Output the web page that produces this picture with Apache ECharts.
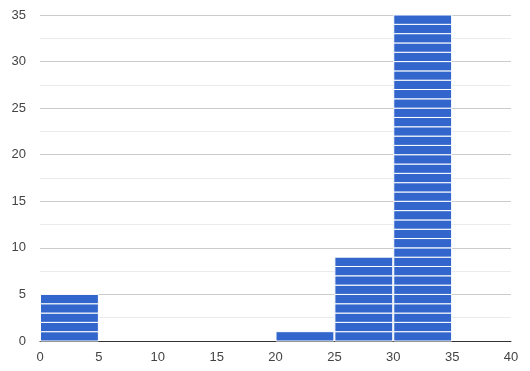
<!DOCTYPE html>
<html>
<head>
<meta charset="utf-8">
<script src="https://cdn.jsdelivr.net/npm/echarts@6/dist/echarts.min.js"></script>
<style>html,body{margin:0;padding:0;background:#fff;}#c{width:530px;height:371px;}</style>
</head>
<body>
<div id="c"></div>
<script>
var binStarts = [0, 5, 10, 15, 20, 25, 30, 35];
var binEnds = [5, 10, 15, 20, 25, 30, 35, 40];
var counts = [5, 0, 0, 0, 1, 9, 35, 0];
var xTicks = [0, 5, 10, 15, 20, 25, 30, 35, 40];
var yTicks = [0, 5, 10, 15, 20, 25, 30, 35];

var data = binStarts.map(function (s, i) { return [s, binEnds[i], counts[i]]; });

var chart = echarts.init(document.getElementById('c'), null, { renderer: 'canvas' });
chart.setOption({
  animation: false,
  grid: { left: 40, right: 19, top: 15, bottom: 30, containLabel: false },
  xAxis: {
    type: 'value', min: xTicks[0], max: xTicks[xTicks.length - 1], interval: 5,
    axisLine: { show: true, onZero: false, lineStyle: { color: '#333', width: 1 } },
    axisTick: { show: false },
    splitLine: { show: false },
    axisLabel: { color: '#444', fontSize: 13, fontFamily: 'Liberation Sans, Arial, sans-serif', margin: 10 }
  },
  yAxis: {
    type: 'value', min: yTicks[0], max: yTicks[yTicks.length - 1], interval: 5,
    axisLine: { show: false }, axisTick: { show: false },
    splitLine: { show: true, lineStyle: { color: '#cccccc', width: 1 } },
    minorTick: { show: false, splitNumber: 2 },
    minorSplitLine: { show: true, lineStyle: { color: '#ebebeb', width: 1 } },
    axisLabel: { color: '#444', fontSize: 13, fontFamily: 'Liberation Sans, Arial, sans-serif', margin: 14 }
  },
  series: [{
    type: 'custom',
    data: data,
    encode: { x: [0, 1], y: 2 },
    z: 3,
    renderItem: function (params, api) {
      var s = api.value(0), e = api.value(1), n = api.value(2);
      var children = [];
      for (var k = 0; k < n; k++) {
        var p0 = api.coord([s, k]);
        var p1 = api.coord([e, k + 1]);
        children.push({
          type: 'rect',
          shape: { x: p0[0] + 0.5, y: p1[1], width: p1[0] - p0[0] - 1, height: p0[1] - p1[1] },
          style: { fill: '#3366cc', stroke: '#ffffff', lineWidth: 1 }
        });
      }
      return { type: 'group', children: children };
    }
  }]
});
</script>
</body>
</html>
